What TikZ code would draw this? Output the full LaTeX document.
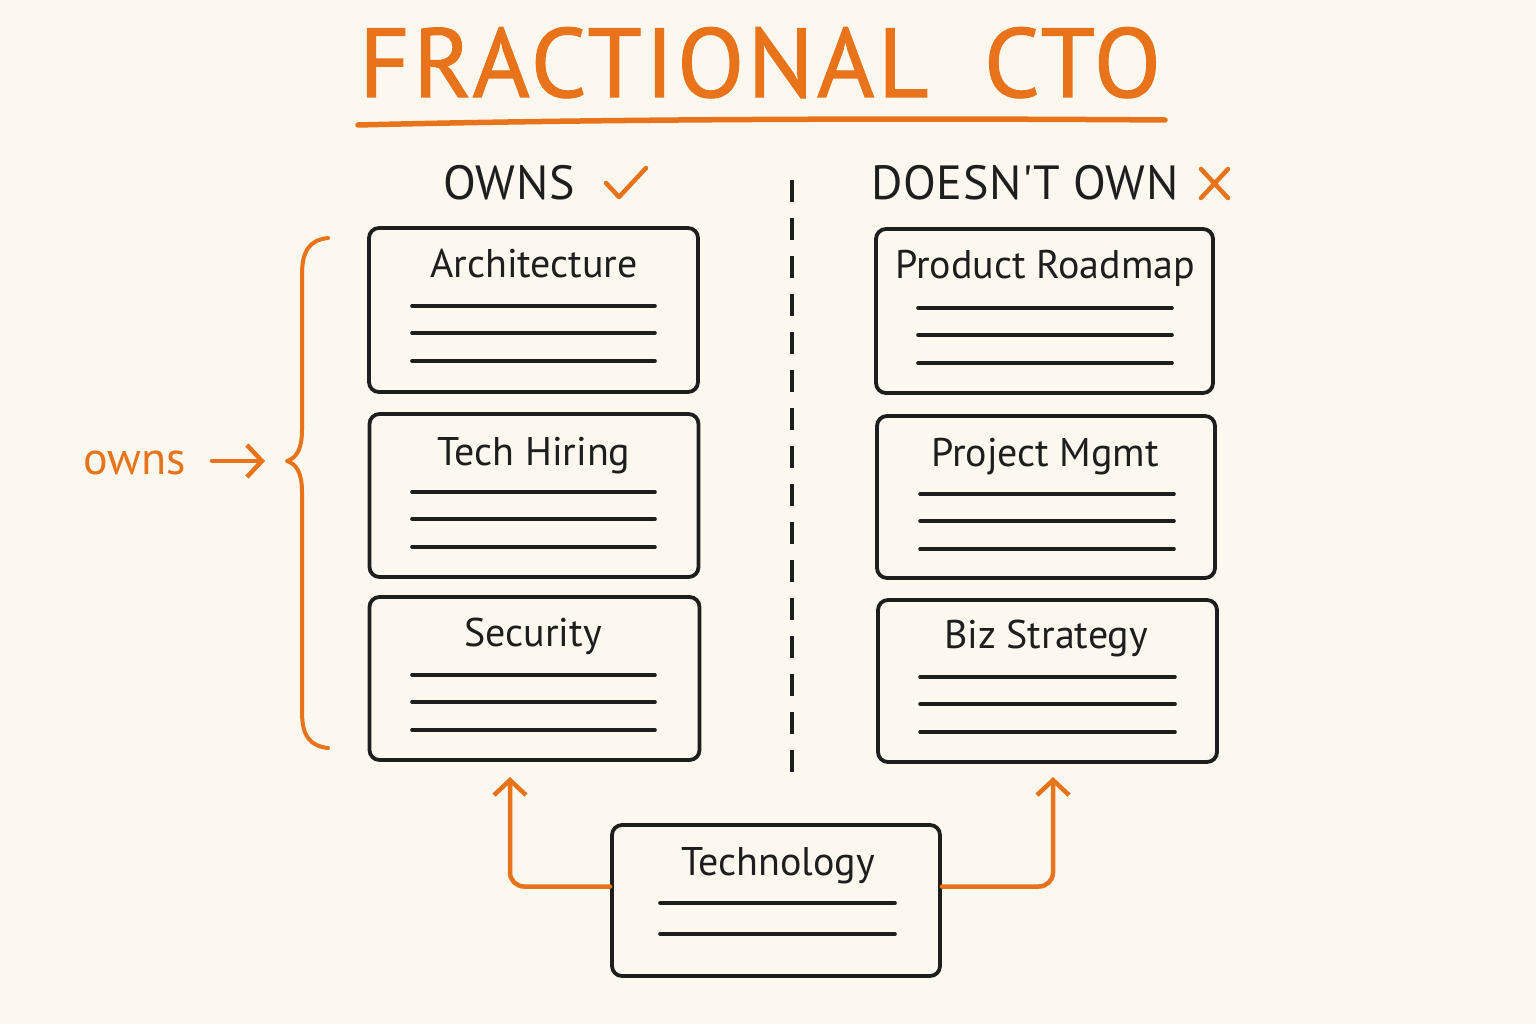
\documentclass[tikz,border=0pt]{standalone}
\usepackage{fontspec}
\setmainfont{PT Sans}
\newfontfamily\titlefont[LetterSpace=3.5,FakeBold=1.2]{PT Sans}
\newfontfamily\headfont[LetterSpace=1.2]{PT Sans}
\usetikzlibrary{arrows.meta}
\definecolor{bg}{HTML}{FCF8F0}
\definecolor{ink}{HTML}{1E1E1E}
\definecolor{accent}{HTML}{E8731A}
\tikzset{
  card/.style={draw=ink, line width=3.8pt, rounded corners=10pt, fill=bg, inner sep=0pt},
  cardtitle/.style={anchor=base, text=ink, font=\fontsize{40}{44}\selectfont, inner sep=0pt},
  rule/.style={draw=ink, line width=3.6pt, line cap=round},
  header/.style={anchor=base, text=ink, font=\headfont\fontsize{48}{52}\selectfont, inner sep=0pt},
  accentline/.style={draw=accent, line width=4.5pt, line cap=round, line join=round},
  accentarrow/.style={accentline, -{Straight Barb[length=15pt,width=32pt,line width=4.5pt]}},
}
\begin{document}
\begin{tikzpicture}[x=1pt,y=-1pt]
\useasboundingbox[fill=bg] (0,0) rectangle (1536,1024);

% title
\node[anchor=base, text=accent, font=\titlefont\fontsize{98}{100}\selectfont, inner sep=0pt] (title) at (760,97) {FRACTIONAL\hspace{26pt} CTO};
\coordinate (ulA) at (358,125);
\coordinate (ulB) at (1165,120);
\draw[accent, line width=5.5pt, line cap=round] (ulA) .. controls (600,119) and (900,118) .. (ulB);

% headers
\node[header] (owns) at (509,200) {OWNS};
\coordinate (ck1) at (606,183);
\coordinate (ck2) at (619,197);
\coordinate (ck3) at (646,168);
\draw[accentline] (ck1) -- (ck2) -- (ck3);
\node[header] (downs) at (1025,200) {DOESN'T OWN};
\coordinate (x1) at (1201,169);
\coordinate (x2) at (1228,198);
\coordinate (x3) at (1228,169);
\coordinate (x4) at (1201,198);
\draw[accentline] (x1) -- (x2) (x3) -- (x4);

% divider
\coordinate (dvA) at (792,180);
\coordinate (dvB) at (792,778);
\draw[ink, line width=3.2pt, dash pattern=on 22pt off 16pt] (dvA) -- (dvB);

% left cards
\node[card, minimum width=329pt, minimum height=164pt] (arch) at (533.5,310) {};
\node[cardtitle] (archT) at (534,278) {Architecture};
\foreach \yy in {306,333,361} \draw[rule] (412,\yy) -- (655,\yy);

\node[card, minimum width=329pt, minimum height=163pt] (hire) at (534,495.5) {};
\node[cardtitle] (hireT) at (534,465) {Tech Hiring};
\foreach \yy in {492,519,547} \draw[rule] (412,\yy) -- (655,\yy);

\node[card, minimum width=330pt, minimum height=163pt] (sec) at (534.5,678.5) {};
\node[cardtitle] (secT) at (533,646) {Security};
\foreach \yy in {675,702,730} \draw[rule] (412,\yy) -- (655,\yy);

% right cards
\node[card, minimum width=337pt, minimum height=164pt] (road) at (1044.5,311) {};
\node[cardtitle] (roadT) at (1045,279) {Product Roadmap};
\foreach \yy in {308,335,363} \draw[rule] (918,\yy) -- (1172,\yy);

\node[card, minimum width=338pt, minimum height=162pt] (pm) at (1046,497) {};
\node[cardtitle] (pmT) at (1045,466) {Project Mgmt};
\foreach \yy in {494,521,549} \draw[rule] (920,\yy) -- (1174,\yy);

\node[card, minimum width=339pt, minimum height=162pt] (biz) at (1047.5,681) {};
\node[cardtitle] (bizT) at (1046,648) {Biz Strategy};
\foreach \yy in {677,704,732} \draw[rule] (920,\yy) -- (1175,\yy);

% technology card
\node[card, minimum width=328pt, minimum height=151pt] (tech) at (776,900.5) {};
\node[cardtitle] (techT) at (778,875) {Technology};
\foreach \yy in {903,934} \draw[rule] (660,\yy) -- (895,\yy);

% connectors
\coordinate (lt) at (510,777);
\coordinate (rt) at (1053,777);
\draw[accentarrow, rounded corners=14pt] ([yshift=14pt]tech.west) -| (lt);
\draw[accentarrow, rounded corners=14pt] ([yshift=14pt]tech.east) -| (rt);

% brace
\coordinate (brT) at (328,238);
\coordinate (brM) at (287,461);
\coordinate (brB) at (328,748);
\draw[accentline, line width=4pt] (brT) .. controls (310,240) and (302,250) .. (302,275)
  -- (302,430) .. controls (302,450) and (296,458) .. (brM)
  .. controls (296,464) and (302,472) .. (302,492)
  -- (302,712) .. controls (302,736) and (310,746) .. (brB);

% owns label
\node[anchor=base, text=accent, font=\fontsize{46}{50}\selectfont, inner sep=0pt] (ownsL) at (135,474) {owns};
\coordinate (oaA) at (212,461);
\coordinate (oaB) at (265,461);
\draw[accentarrow] (oaA) -- (oaB);
\end{tikzpicture}
\end{document}
